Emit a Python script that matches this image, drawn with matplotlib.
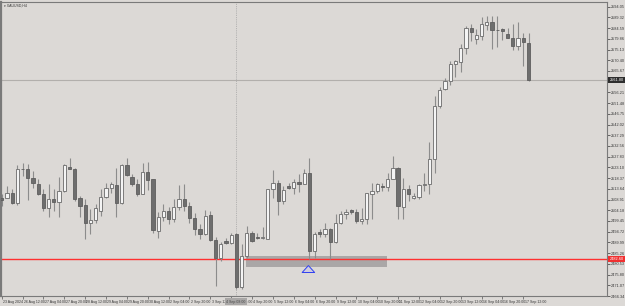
import matplotlib
matplotlib.use("Agg")
import matplotlib.pyplot as plt
import matplotlib.transforms as mtransforms
from matplotlib.patches import Rectangle
import numpy as np

plt.rcParams["font.family"] = ["Liberation Sans", "DejaVu Sans"]

# ---------------- data (XAUUSD, H4) ----------------
opens = [2509.4, 2509.7, 2512.0, 2507.5, 2522.6, 2522.2, 2518.5, 2516.0, 2511.2, 2505.3,
         2509.3, 2507.8, 2512.7, 2523.4, 2522.5, 2509.4, 2506.4, 2498.4, 2499.8, 2503.7,
         2510.2, 2514.1, 2515.3, 2507.2, 2524.0, 2519.0, 2516.0, 2511.5, 2521.2, 2517.8,
         2495.1, 2501.1, 2503.7, 2500.2, 2505.5, 2509.0, 2505.9, 2500.6, 2495.8, 2493.6,
         2502.0, 2491.1, 2483.3, 2490.4, 2489.6, 2493.6, 2470.4, 2483.8, 2494.3, 2492.6,
         2491.8, 2491.7, 2513.4, 2516.3, 2508.3, 2514.9, 2514.1, 2516.8, 2516.0, 2520.7,
         2486.3, 2494.8, 2493.6, 2496.1, 2490.0, 2498.7, 2502.7, 2504.2, 2503.4, 2499.5,
         2500.2, 2511.5, 2512.7, 2514.9, 2514.4, 2518.2, 2523.0, 2505.8, 2513.4, 2509.4,
         2510.2, 2515.5, 2516.0, 2526.6, 2550.1, 2557.7, 2561.4, 2568.7, 2569.6, 2575.7,
         2584.5, 2579.7, 2581.2, 2586.0, 2587.2, 2583.8, 2584.1, 2582.0, 2580.4, 2576.9,
         2580.1, 2578.0]
highs = [2511.2, 2514.9, 2513.4, 2524.0, 2525.1, 2524.8, 2521.5, 2517.8, 2513.4, 2516.0,
         2513.7, 2519.0, 2524.8, 2527.3, 2522.8, 2510.5, 2509.0, 2504.9, 2506.8, 2513.4,
         2516.3, 2516.6, 2523.0, 2524.4, 2527.3, 2520.0, 2518.1, 2525.1, 2525.4, 2518.2,
         2503.3, 2506.8, 2505.5, 2509.0, 2515.2, 2516.0, 2507.7, 2502.8, 2498.0, 2504.3,
         2503.9, 2492.3, 2490.1, 2492.1, 2494.3, 2494.3, 2489.2, 2497.3, 2495.1, 2494.3,
         2497.0, 2513.7, 2521.9, 2517.5, 2514.9, 2516.3, 2518.1, 2520.4, 2522.2, 2527.3,
         2494.5, 2495.8, 2498.7, 2496.4, 2502.4, 2503.9, 2504.6, 2504.6, 2504.6, 2505.3,
         2512.0, 2516.3, 2516.3, 2516.3, 2520.7, 2528.1, 2523.3, 2518.5, 2515.2, 2512.0,
         2516.0, 2520.7, 2534.2, 2554.8, 2558.6, 2562.5, 2569.9, 2570.6, 2577.6, 2585.6,
         2586.4, 2584.1, 2589.7, 2590.0, 2590.0, 2590.0, 2584.7, 2584.5, 2586.4, 2587.2,
         2582.6, 2582.4]
lows = [2505.9, 2509.4, 2506.8, 2506.5, 2519.3, 2508.7, 2514.1, 2510.8, 2503.9, 2501.4,
        2503.9, 2501.4, 2512.2, 2522.2, 2508.3, 2501.0, 2491.4, 2493.6, 2498.7, 2501.7,
        2509.7, 2512.0, 2501.4, 2506.8, 2519.3, 2514.9, 2510.5, 2511.2, 2513.1, 2494.3,
        2492.1, 2499.3, 2498.0, 2498.9, 2504.2, 2503.7, 2498.4, 2493.2, 2491.4, 2493.2,
        2490.7, 2470.9, 2481.9, 2489.2, 2489.2, 2469.4, 2469.4, 2483.3, 2490.2, 2491.7,
        2491.4, 2491.4, 2509.7, 2502.0, 2506.8, 2513.7, 2511.2, 2512.2, 2515.6, 2482.6,
        2483.3, 2492.6, 2492.6, 2482.6, 2489.6, 2498.0, 2500.2, 2502.4, 2498.7, 2498.0,
        2498.0, 2500.2, 2512.0, 2512.7, 2512.7, 2517.8, 2500.2, 2500.2, 2508.3, 2509.3,
        2509.3, 2512.7, 2511.2, 2520.7, 2549.3, 2557.1, 2559.6, 2563.1, 2565.3, 2573.1,
        2579.1, 2577.5, 2579.4, 2583.8, 2575.3, 2576.2, 2579.4, 2580.1, 2575.0, 2575.0,
        2568.0, 2561.1]
closes = [2508.6, 2512.0, 2507.2, 2522.5, 2522.2, 2518.5, 2516.3, 2511.2, 2505.3, 2509.0,
          2507.8, 2512.7, 2524.0, 2522.5, 2509.3, 2506.1, 2498.4, 2499.8, 2505.3, 2510.2,
          2514.1, 2515.6, 2507.2, 2524.0, 2519.6, 2515.9, 2511.5, 2521.2, 2517.5, 2495.5,
          2501.0, 2503.7, 2500.2, 2505.5, 2509.0, 2505.9, 2500.6, 2495.8, 2493.6, 2501.7,
          2491.1, 2483.3, 2489.5, 2489.8, 2493.3, 2470.1, 2483.8, 2494.3, 2490.7, 2492.0,
          2492.6, 2513.4, 2516.3, 2508.3, 2513.0, 2513.8, 2516.8, 2515.9, 2520.7, 2486.3,
          2493.9, 2493.6, 2495.8, 2490.0, 2498.7, 2502.4, 2503.6, 2503.4, 2499.5, 2500.2,
          2511.6, 2512.7, 2515.6, 2514.4, 2518.1, 2523.0, 2506.1, 2513.4, 2511.2, 2510.5,
          2515.5, 2515.6, 2527.0, 2550.1, 2557.1, 2561.1, 2568.7, 2569.9, 2575.7, 2584.5,
          2582.8, 2581.6, 2586.3, 2587.2, 2583.8, 2583.6, 2583.1, 2580.4, 2576.9, 2580.1,
          2578.4, 2561.8]

time_label_bars = [0, 4, 8, 12, 16, 20, 24, 28, 32, 36, 40, 44, 48, 52, 56, 60,
                   64, 68, 72, 76, 80, 84, 88, 92, 96, 100]
time_labels = ["23 Aug 2024", "26 Aug 12:00", "27 Aug 04:00", "27 Aug 20:00", "28 Aug 12:00",
               "29 Aug 04:00", "29 Aug 20:00", "30 Aug 12:00", "2 Sep 04:00", "2 Sep 20:00",
               "3 Sep 12:00", "4 Sep 04:00", "4 Sep 20:00", "5 Sep 12:00", "6 Sep 04:00",
               "6 Sep 20:00", "9 Sep 12:00", "10 Sep 04:00", "10 Sep 20:00", "11 Sep 12:00",
               "12 Sep 04:00", "12 Sep 20:00", "13 Sep 12:00", "16 Sep 04:00", "16 Sep 20:00",
               "17 Sep 12:00"]
price_ticks = [2594.05, 2589.32, 2584.59, 2579.86, 2575.13, 2570.40, 2565.67, 2560.94,
               2556.21, 2551.48, 2546.75, 2542.02, 2537.29, 2532.56, 2527.83, 2523.10,
               2518.37, 2513.64, 2508.91, 2504.18, 2499.45, 2494.72, 2489.99, 2485.26,
               2480.53, 2475.80, 2471.07, 2466.34]

support_level = 2482.6
zone_low, zone_high = 2479.2, 2484.1
zone_start, zone_end = 46.8, 73.9
arrow_bar, arrow_base, arrow_tip = 58.8, 2476.6, 2481.0
vline_bar = 44.9
vline_label = "4 Sep 08:00"
symbol_title = "XAUUSD,H4"

# ---------------- styling ----------------
BG = "#dcd9d6"
BULL_FILL = "#f4f4f4"
BEAR_FILL = "#6e6e6e"
EDGE = "#6a6a6a"
WICK = "#8c8c8c"
FS = 2.5
FSY = 2.8

W, H = 625, 306
fig = plt.figure(figsize=(W / 100, H / 100), dpi=100, facecolor=BG)
ax_l, ax_r, ax_t, ax_b = 1, 607, 2, 296
ax = fig.add_axes([ax_l / W, (H - ax_b) / H, (ax_r - ax_l) / W, (ax_b - ax_t) / H])
ax.set_facecolor(BG)

n = len(opens)
x = np.arange(n)
px_per_bar = 5.216
ax.set_xlim((ax_l - 1.7) / px_per_bar, (ax_r - 1.7) / px_per_bar)
ax.set_ylim(2597 - 0.44 * ax_b, 2597 - 0.44 * ax_t)

o = np.array(opens); c = np.array(closes); hi = np.array(highs); lo = np.array(lows)
bull = c >= o
ax.vlines(x, lo, hi, color=WICK, linewidth=0.8, zorder=2)
bottoms = np.minimum(o, c)
heights = np.maximum(np.abs(c - o), 0.35)
ax.bar(x[bull], heights[bull], bottom=bottoms[bull], width=0.62,
       facecolor=BULL_FILL, edgecolor=EDGE, linewidth=0.6, zorder=3)
ax.bar(x[~bull], heights[~bull], bottom=bottoms[~bull], width=0.62,
       facecolor=BEAR_FILL, edgecolor="#5e5e5e", linewidth=0.6, zorder=3)

# zone rectangle, support line, arrow
ax.add_patch(Rectangle((zone_start, zone_low), zone_end - zone_start, zone_high - zone_low,
                       facecolor="#aaa7a7", edgecolor="none", zorder=1))
ax.axhline(support_level, color="#ff3030", linewidth=1.0, zorder=1.8)
ax.annotate("", xy=(arrow_bar, arrow_tip), xytext=(arrow_bar, arrow_base),
            arrowprops=dict(arrowstyle="simple,head_length=0.5,head_width=0.9,tail_width=0.45",
                            facecolor="#cfcde0", edgecolor="#3040f0", linewidth=0.7), zorder=5)

# current price line and vertical separator
last = closes[-1]
ax.axhline(last, color="#b2afac", linewidth=0.8, zorder=1)
ax.axvline(vline_bar, color="#a5a5a5", linewidth=0.6, linestyle=(0, (1, 1.2)), zorder=1)

# axes styling
for s in ["top", "bottom", "right", "left"]:
    ax.spines[s].set_color("#7a7a7a")
    ax.spines[s].set_linewidth(0.8)
ax.spines["left"].set_linewidth(1.6)
ax.yaxis.tick_right()
ax.set_yticks(price_ticks)
ax.set_yticklabels([f"{v:.2f}" for v in price_ticks])
ax.tick_params(axis="y", direction="out", length=2, width=0.5, pad=0.8,
               labelsize=FSY, colors="#333333")
ax.set_xticks(time_label_bars)
ax.set_xticklabels([])
ax.tick_params(axis="x", direction="out", length=2.5, width=0.5, colors="#555555")

xtrans = mtransforms.blended_transform_factory(ax.transData, ax.transAxes)
for b, t in zip(time_label_bars, time_labels):
    ax.text(b + 0.25, -0.012, t, transform=xtrans, fontsize=FS, color="#333333",
            ha="left", va="top", clip_on=False)

# price boxes on right axis
trans = mtransforms.blended_transform_factory(ax.transAxes, ax.transData)
ax.text(1.004, last, f"{last:.2f}", transform=trans, fontsize=FSY, color="white",
        va="center", ha="left", clip_on=False, zorder=6,
        bbox=dict(boxstyle="square,pad=0.3", facecolor="#2e2e2e", edgecolor="none"))
ax.text(1.004, support_level, f"{support_level:.2f}", transform=trans, fontsize=FSY,
        color="white", va="center", ha="left", clip_on=False, zorder=6,
        bbox=dict(boxstyle="square,pad=0.3", facecolor="#f03030", edgecolor="none"))

# time box under separator
ax.text(vline_bar, -0.012, vline_label, transform=xtrans,
        fontsize=FS, color="#444444", va="top", ha="center", clip_on=False, zorder=6,
        bbox=dict(boxstyle="square,pad=0.3", facecolor="#a9a7a6", edgecolor="none"))

# title
fig.text(4 / W, 1 - 6 / H, "\u25BE " + symbol_title, fontsize=FS, color="#333333",
         va="center", ha="left")

fig.savefig("out.png", dpi=100, facecolor=BG)
